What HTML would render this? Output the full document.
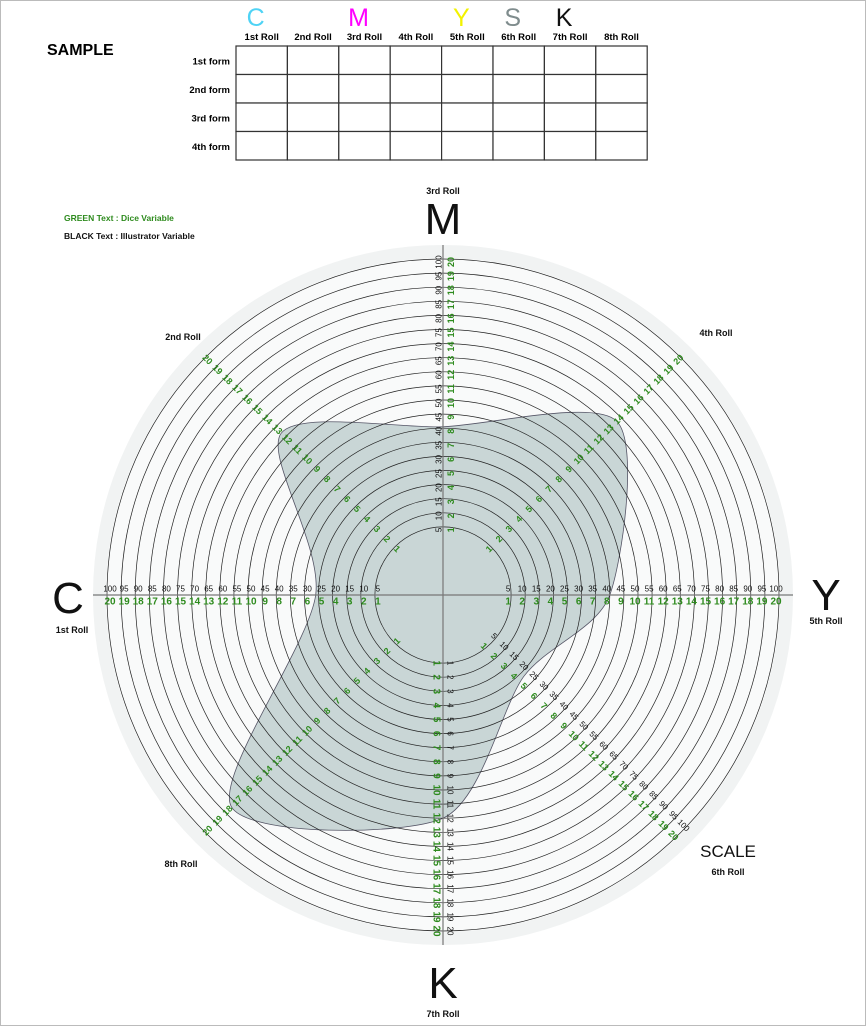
<!DOCTYPE html>
<html><head><meta charset="utf-8"><style>
body{margin:0;background:#fff}
svg{display:block;font-family:"Liberation Sans",sans-serif}
</style></head><body>
<svg id="c" width="866" height="1026" viewBox="0 0 866 1026">
<rect x="0.5" y="0.5" width="865" height="1025" fill="#fff" stroke="#bbb"/>
<g id="tbl"></g>
<g id="chart"></g>
</svg>
<script>
// data
const axisNames = ["C","M","Y","K"];
const rollLabels = ["1st Roll","2nd Roll","3rd Roll","4th Roll","5th Roll","6th Roll","7th Roll","8th Roll"];
const formLabels = ["1st form","2nd form","3rd form","4th form"];
const headerLetters = ["C","","M","","Y","S","K",""];
const headerColors = ["#4fd3f5","","#f0f","","#f2f200","#7f8c8d","#111",""];
// dice values per roll, clockwise from C (left), angles: 180,135,90,45,0,-45,-90,-135
const rollValues = [5.2, 12.4, 8.1, 13.6, 8.0, 4.3, 12.0, 17.4];
const ringCount = 20;

const NS="http://www.w3.org/2000/svg";
function mk(tag, attrs, parent, text){const e=document.createElementNS(NS,tag);for(const k in attrs)e.setAttribute(k,attrs[k]);if(text!==undefined)e.textContent=text;parent.appendChild(e);return e;}
const tbl=document.getElementById('tbl');
const ch=document.getElementById('chart');

// ---- table
const tx0=236, tw=51.4, ty0=46, th=28.5;
let t=mk('text',{x:47,y:55,'font-size':16,'font-weight':'bold'},tbl,'SAMPLE');

for(let i=0;i<8;i++){
  const cx=tx0+tw*i+tw/2;
  if(headerLetters[i]){const e=mk('text',{x:cx-6,y:26,'font-size':25,fill:headerColors[i],'text-anchor':'middle'},tbl,headerLetters[i]);
    }
  const e=mk('text',{x:cx,y:40,'font-size':9.5,'text-anchor':'middle','font-weight':'bold'},tbl,rollLabels[i]);
  
}
for(let r=0;r<4;r++){
  const e=mk('text',{x:230,y:ty0+th*r+th/2+4,'font-size':9.5,'text-anchor':'end','font-weight':'bold'},tbl,formLabels[r]);
  
  for(let c=0;c<8;c++){
    const cell=mk('rect',{x:tx0+tw*c,y:ty0+th*r,width:tw,height:th,fill:'#fff',stroke:'#333','stroke-width':1.2},tbl);
    
  }
}

// ---- radar
const CX=443, CY=595;
const rScale = k => 54 + 14.1*k;
let bg=mk('circle',{cx:CX,cy:CY,r:350,fill:'#f1f3f3'},ch);

bg=mk('circle',{cx:CX,cy:CY,r:rScale(ringCount)+1,fill:'#f9fafa'},ch);


const angles=[180,135,90,45,0,-45,-90,-135];
const pts=rollValues.map((v,i)=>{const a=angles[i]*Math.PI/180;const r=rScale(v);return [CX+r*Math.cos(a),CY-r*Math.sin(a)];});
let d='';const n=pts.length;
for(let i=0;i<n;i++){
  const p0=pts[(i-1+n)%n],p1=pts[i],p2=pts[(i+1)%n],p3=pts[(i+2)%n];
  if(i===0)d+=`M${p1[0]},${p1[1]}`;
  const k=1/7.5;
  d+=` C${p1[0]+(p2[0]-p0[0])*k},${p1[1]+(p2[1]-p0[1])*k} ${p2[0]-(p3[0]-p1[0])*k},${p2[1]-(p3[1]-p1[1])*k} ${p2[0]},${p2[1]}`;
}
const shape=mk('path',{d:d+'Z',fill:'#c9d6d6',stroke:'#556','stroke-width':0.8},ch);


for(let k=1;k<=ringCount;k++){
  const c=mk('circle',{cx:CX,cy:CY,r:rScale(k),fill:'none',stroke:'#222','stroke-width':0.7},ch);
  
}
let ax=mk('line',{x1:93,y1:CY,x2:793,y2:CY,stroke:'#777','stroke-width':1.2},ch);

ax=mk('line',{x1:CX,y1:245,x2:CX,y2:945,stroke:'#777','stroke-width':1.2},ch);


const G='#2e8b1e';
function lab(x,y,rot,txt,color,size,name){
  const e=mk('text',{x:x,y:y,'font-size':size,fill:color,'text-anchor':'middle','dominant-baseline':'central','font-weight':color===G?'bold':'normal',transform:`rotate(${rot} ${x} ${y})`},ch,txt);
  
}
for(let k=1;k<=ringCount;k++){
  const r=rScale(k)-3;
  lab(CX-r,CY-6,0,String(k*5),'#111',8,'tick-left-black');
  lab(CX-r,CY+7,0,String(k),G,10,'tick-left-green');
  lab(CX+r,CY-6,0,String(k*5),'#111',8,'tick-right-black');
  lab(CX+r,CY+7,0,String(k),G,10,'tick-right-green');
  lab(CX-4,CY-r,-90,String(k*5),'#111',8,'tick-top-black');
  lab(CX+8,CY-r,-90,String(k),G,9,'tick-top-green');
  lab(CX-7,CY+r+3,90,String(k),G,10,'tick-bottom-green');
  lab(CX+7,CY+r+3,90,String(k),'#111',8,'tick-bottom-black');
  const s=Math.SQRT1_2;
  lab(CX+r*s,CY-r*s,-45,String(k),G,9,'tick-ne-green');
  lab(CX-r*s,CY-r*s,45,String(k),G,9,'tick-nw-green');
  lab(CX-r*s,CY+r*s,-45,String(k),G,9,'tick-sw-green');
  lab(CX+r*s+5,CY+r*s-5,45,String(k*5),'#111',8,'tick-se-black');
  lab(CX+r*s-5,CY+r*s+5,45,String(k),G,9,'tick-se-green');
}

function title(x,y,txt,size,anchor,name,color,weight){
  const e=mk('text',{x:x,y:y,'font-size':size,'text-anchor':anchor||'middle',fill:color||'#111','font-weight':weight||'normal'},ch,txt);
  
}
title(443,234,axisNames[1],44,'middle','axis-m-letter');
title(443,194,rollLabels[2],9,'middle','axis-3rd-roll','#111','bold');
title(68,613,axisNames[0],44,'middle','axis-c-letter');
title(72,633,rollLabels[0],9,'middle','axis-1st-roll','#111','bold');
title(826,610,axisNames[2],44,'middle','axis-y-letter');
title(826,624,rollLabels[4],9,'middle','axis-5th-roll','#111','bold');
title(443,998,axisNames[3],44,'middle','axis-k-letter');
title(443,1017,rollLabels[6],9,'middle','axis-7th-roll','#111','bold');
title(183,340,rollLabels[1],9,'middle','axis-2nd-roll','#111','bold');
title(716,336,rollLabels[3],9,'middle','axis-4th-roll','#111','bold');
title(728,857,'SCALE',17,'middle','scale-label');
title(728,875,rollLabels[5],9,'middle','axis-6th-roll','#111','bold');
title(181,867,rollLabels[7],9,'middle','axis-8th-roll','#111','bold');
title(64,221,'GREEN Text : Dice Variable',8.5,'start','legend-green',G,'bold');
title(64,239,'BLACK Text : Illustrator Variable',8.5,'start','legend-black','#111','bold');
</script>
</body></html>
